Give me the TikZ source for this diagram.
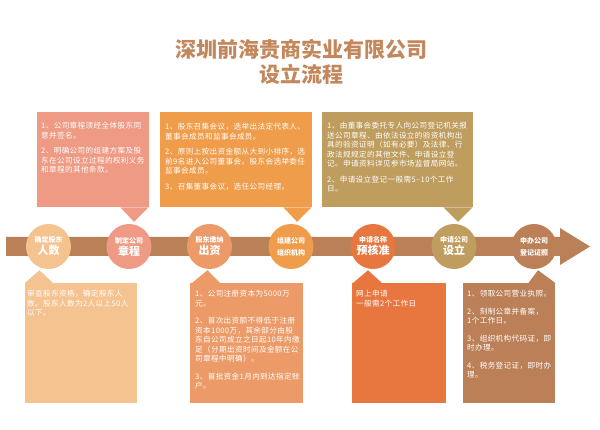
\documentclass[tikz,border=0pt]{standalone}
\usepackage{fontspec}
\setmainfont{Noto Sans CJK SC}
\newfontfamily\notefont{Noto Sans CJK SC}[LetterSpace=5]
\definecolor{titlecol}{HTML}{C3875C}
\definecolor{bandcol}{HTML}{BA8058}
\definecolor{peach}{HTML}{F5C38F}
\definecolor{salmon}{HTML}{EE9A84}
\definecolor{apricot}{HTML}{EC9B68}
\definecolor{amber}{HTML}{EF9C4B}
\definecolor{tangerine}{HTML}{E8773F}
\definecolor{khaki}{HTML}{BE9D5E}
\definecolor{umber}{HTML}{BC8058}
\begin{document}
\begin{tikzpicture}[x=1pt, y=-1pt,
    stage/.style={circle, minimum size=45pt, inner sep=0pt, text=white, font=\bfseries, align=center},
    panel/.style={anchor=north west, inner sep=0pt},
    note/.style={anchor=north west, inner sep=0pt, text=white, align=left, font=\notefont\fontsize{7.6}{9.5}\selectfont}]
        \useasboundingbox (0,0) rectangle (600,430);

        % Title
        \node[text=titlecol, font=\bfseries\fontsize{21}{25}\selectfont, align=center] (title) at (301,62) {深圳前海贵商实业有限公司\\设立流程};

        % Timeline
        \fill[bandcol] (6,237) -- (560,237) -- (560,228) -- (590,246.5) -- (560,265) -- (560,256) -- (6,256) -- cycle;

        % Stages
        \node[stage, fill=peach] (s1) at (48.5,246.5) {{\fontsize{7}{10}\selectfont 确定股东}\\{\fontsize{11}{12}\selectfont 人数}};
        \node[stage, fill=salmon] (s2) at (129,246.5) {{\fontsize{7}{10}\selectfont 制定公司}\\{\fontsize{11}{12}\selectfont 章程}};
        \node[stage, fill=apricot] (s3) at (209.5,246.5) {{\fontsize{7}{10}\selectfont 股东缴纳}\\{\fontsize{11}{12}\selectfont 出资}};
        \node[stage, fill=amber] (s4) at (291,246.5) {{\fontsize{7}{11}\selectfont 组建公司}\\{\fontsize{7}{9}\selectfont 组织机构}};
        \node[stage, fill=tangerine] (s5) at (373,246.5) {{\fontsize{7}{10}\selectfont 申请名称}\\{\fontsize{11}{12}\selectfont 预核准}};
        \node[stage, fill=khaki] (s6) at (454,246.5) {{\fontsize{7}{10}\selectfont 申请公司}\\{\fontsize{11}{12}\selectfont 设立}};
        \node[stage, fill=umber] (s7) at (534,246.5) {{\fontsize{7}{11}\selectfont 申办公司}\\{\fontsize{7}{9}\selectfont 登记证照}};

        % Upper boxes
        \node[panel, fill=salmon, minimum width=112pt, minimum height=95pt] (b1) at (37,112) {};
        \node[panel, fill=amber, minimum width=152pt, minimum height=95pt] (b2) at (160,112) {};
        \node[panel, fill=khaki, minimum width=151pt, minimum height=95pt] (b3) at (322,112) {};

        % Lower boxes
        \node[panel, fill=peach, minimum width=112pt, minimum height=120pt] (b4) at (25,283) {};
        \node[panel, fill=apricot, minimum width=113pt, minimum height=120pt] (b5) at (190,283) {};
        \node[panel, fill=tangerine, minimum width=94pt, minimum height=120pt] (b6) at (352,283) {};
        \node[panel, fill=umber, minimum width=92pt, minimum height=120pt] (b7) at (463,283) {};

        % Pointers
        \fill[salmon] ([xshift=-29pt]b1.south east) -- ([xshift=5pt,yshift=2pt]s2.north) -- ([xshift=-1pt]b1.south east) -- cycle;
        \fill[amber] ([xshift=-29pt]b2.south east) -- ([xshift=6pt,yshift=2pt]s4.north) -- ([xshift=-1pt]b2.south east) -- cycle;
        \fill[khaki] ([xshift=-30pt]b3.south east) -- ([xshift=4pt,yshift=2pt]s6.north) -- ([xshift=-1pt]b3.south east) -- cycle;
        \fill[peach] (b4.north west) -- ([xshift=-9pt,yshift=-1pt]s1.south) -- ([xshift=28pt]b4.north west) -- cycle;
        \fill[apricot] ([xshift=2pt]b5.north west) -- ([xshift=-2pt,yshift=-1pt]s3.south) -- ([xshift=30pt]b5.north west) -- cycle;
        \fill[tangerine] ([xshift=1pt]b6.north west) -- ([xshift=-5pt,yshift=-1pt]s5.south) -- ([xshift=30pt]b6.north west) -- cycle;
        \fill[umber] ([xshift=-27pt]b7.north east) -- ([xshift=4pt,yshift=-1pt]s7.south) -- (b7.north east) -- cycle;

        % Texts
        \node[note] (t1) at (41,122) {1、公司章程须经全体股东同\\意并签名。\\[6pt]2、明确公司的组建方案及股\\东在公司设立过程的权利义务\\和章程的其他条款。};
        \node[note] (t2) at (165,123) {1、股东召集会议，选举出法定代表人、\\董事会成员和监事会成员。\\[6pt]2、原则上按出资金额从大到小排序，选\\前9名进入公司董事会。股东会选举委任\\监事会成员。\\[6pt]3、召集董事会议，选任公司经理。};
        \node[note] (t3) at (327,122) {1、由董事会委托专人向公司登记机关报\\送公司章程、由依法设立的验资机构出\\具的验资证明（如有必要）及法律、行\\政法规规定的其他文件、申请设立登\\记。申请资料详见参市场监督局网站。\\[6pt]2、申请设立登记一般需5–10个工作\\日。};
        \node[note] (t4) at (27,290) {审查股东资格，确定股东人\\数。股东人数为2人以上50人\\以下。};
        \node[note] (t5) at (195,290) {1、公司注册资本为5000万\\元。\\[8pt]2、首次出资额不得低于注册\\资本1000万，其余部分由股\\东自公司成立之日起10年内缴\\足（分期出资时间及金额在公\\司章程中明确）。\\[8pt]3、首批资金1月内到达指定账\\户。};
        \node[note] (t6) at (356,290) {网上申请\\一般需2个工作日};
        \node[note] (t7) at (467,290) {1、领取公司营业执照。\\[8pt]2、刻制公章并备案，\\1个工作日。\\[8pt]3、组织机构代码证，即\\时办理。\\[8pt]4、税务登记证，即时办\\理。};
\end{tikzpicture}
\end{document}
